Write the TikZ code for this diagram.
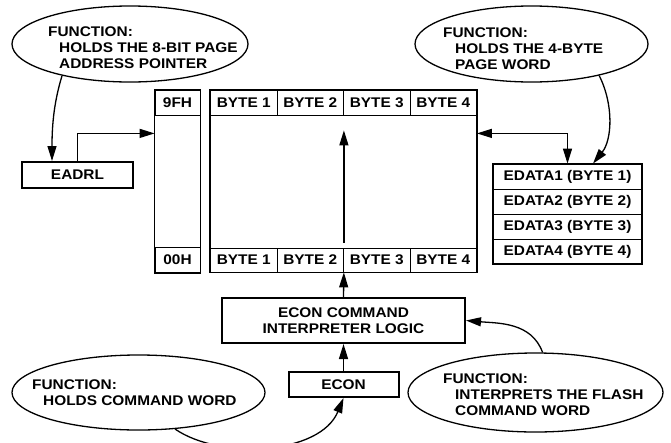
\documentclass[tikz,border=0pt]{standalone}
\usepackage{fontspec}
\setmainfont{Liberation Sans}[FakeStretch=1.1]
\usetikzlibrary{arrows.meta, shapes.geometric}

\newcommand{\figfont}{\fontsize{14}{16}\selectfont\bfseries}

\tikzset{
    >={Triangle[length=15pt, width=9pt]},
    cell/.style={draw, line width=0.8pt, minimum height=25pt, inner sep=0pt, font=\figfont},
    regbox/.style={draw, line width=2pt, inner sep=0pt, font=\figfont},
    fnoval/.style={ellipse, draw, line width=1.3pt, inner sep=0pt},
    fntext/.style={align=left, inner sep=0pt, anchor=north west, font=\figfont},
    arr/.style={line width=1.3pt}
}

\begin{document}
\begin{tikzpicture}[x=1pt, y=-1pt]
    \useasboundingbox (0,0) rectangle (671,442);
    \clip (0,0) rectangle (671,442);

    % page address column
    \node[cell, minimum width=45pt] (hi) at (177.5,102.5) {9FH};
    \node[cell, minimum width=45pt] (lo) at (177.5,260) {00H};
    \draw[line width=1.5pt] (hi.north west) rectangle (lo.south east);

    % flash page
    \foreach \i in {1,...,4} {
        \node[cell, minimum width=66.5pt] (top\i) at ({210.5+66.5*(\i-0.5)}, 102.5) {BYTE \i};
        \node[cell, minimum width=66.5pt, minimum height=24pt] (bot\i) at ({210.5+66.5*(\i-0.5)}, 260) {BYTE \i};
    }
    \draw[line width=1.5pt] (top1.north west) rectangle (bot4.south east);

    % registers
    \node[regbox, minimum width=111pt, minimum height=26pt] (eadrl) at (77.5,175) {EADRL};
    \foreach \i in {1,...,4}
        \node[cell, minimum width=149pt] (edata\i) at (567.5, {151.5+25*\i}) {EDATA\i\ (BYTE \i)};
    \draw[line width=2pt] (edata1.north west) rectangle (edata4.south east);

    \node[regbox, minimum width=243pt, minimum height=45pt, align=center] (logic) at (343.5,320.5)
        {ECON COMMAND\\INTERPRETER LOGIC};
    \node[regbox, minimum width=110pt, minimum height=25pt] (econ) at (343.5,384.5) {ECON};

    % function bubbles
    \node[fnoval, minimum width=236pt, minimum height=76pt] (ptroval) at (130,44) {};
    \node[fntext] (ptrtxt) at (48,27)
        {FUNCTION:\\\hspace*{11pt}HOLDS THE 8-BIT PAGE\\\hspace*{11pt}ADDRESS POINTER};
    \node[fnoval, minimum width=233pt, minimum height=76pt] (wordoval) at (531.5,44) {};
    \node[fntext] (wordtxt) at (443,28)
        {FUNCTION:\\\hspace*{12pt}HOLDS THE 4-BYTE\\\hspace*{12pt}PAGE WORD};
    \node[fnoval, minimum width=253pt, minimum height=75pt] (cmdoval) at (138.5,392.5) {};
    \node[fntext] (cmdtxt) at (32,380)
        {FUNCTION:\\\hspace*{11pt}HOLDS COMMAND WORD};
    \node[fnoval, minimum width=255pt, minimum height=79pt] (flashoval) at (535.5,392.5) {};
    \node[fntext] (flashtxt) at (443,374)
        {FUNCTION:\\\hspace*{12pt}INTERPRETS THE FLASH\\\hspace*{12pt}COMMAND WORD};

    % connections
    \draw[arr, ->] (ptroval.205) .. controls (53,105) and (52,130) .. ([xshift=-25.5pt]eadrl.north);
    \draw[arr, ->] (eadrl.north) |- ([yshift=-18pt]hi.south west);
    \draw[arr, <->] ([yshift=-18pt]top4.south east) -| (edata1.north);
    \draw[arr, ->] (wordoval.-25) .. controls (614,105) and (612,140) .. ([xshift=25.5pt]edata1.north);
    \draw[arr, ->] ([yshift=5pt]bot2.north east) -- ([yshift=-15pt]top2.south east);
    \draw[arr, ->] (logic.north) -- (bot2.south east);
    \draw[arr, ->] (econ.north) -- (logic.south);
    \draw[arr, ->] (cmdoval.-45) .. controls (220,460) and (320,455) .. (econ.south);
    \draw[arr, ->] (flashoval.80) to[out=110, in=-5] (logic.east);
\end{tikzpicture}
\end{document}
